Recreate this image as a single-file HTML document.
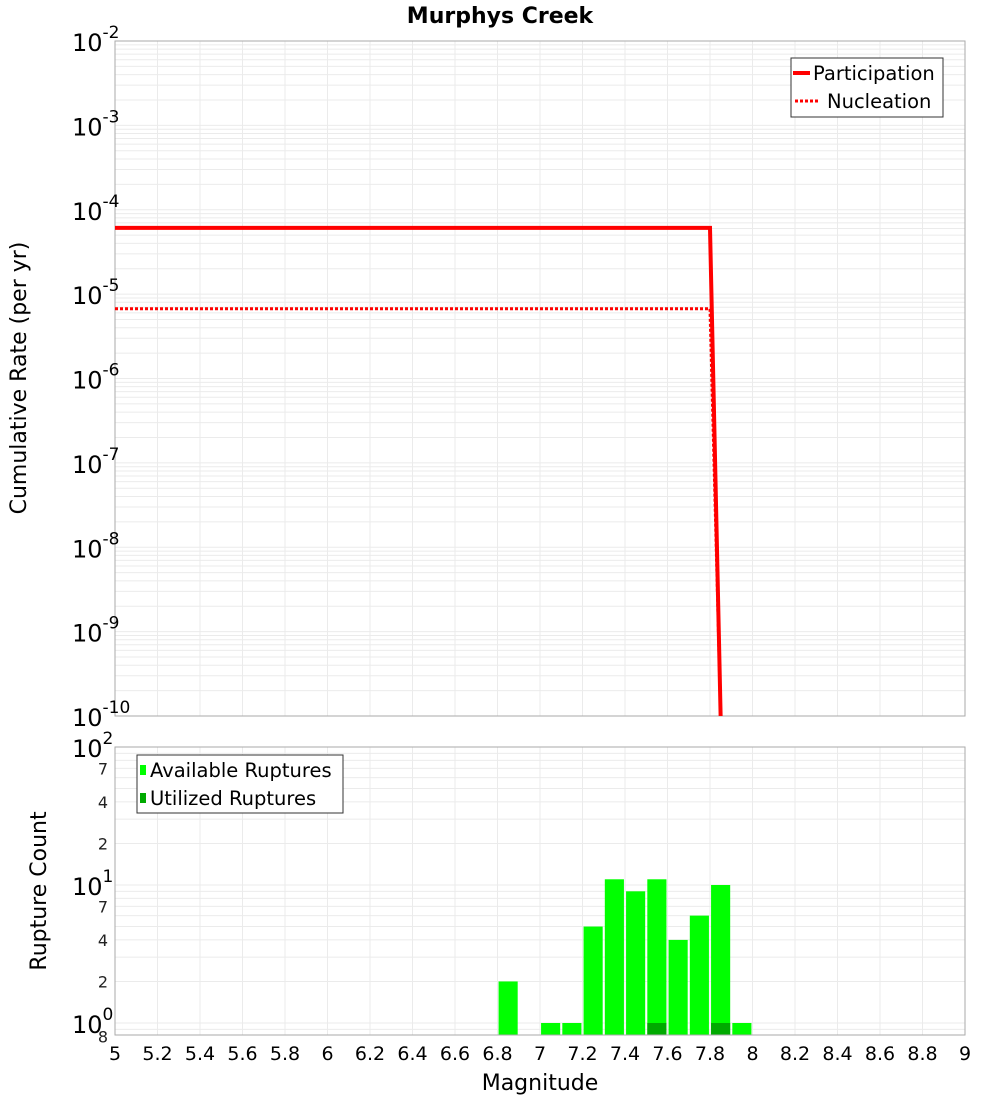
<!DOCTYPE html>
<html><head><meta charset="utf-8">
<style>
body{margin:0;background:#fff;}
svg text{font-family:"DejaVu Sans","Liberation Sans",sans-serif;}
</style></head>
<body>
<svg id="chart" width="1000" height="1100" xmlns="http://www.w3.org/2000/svg">
<rect width="1000" height="1100" fill="#fff"/>
<text x="500" y="23" text-anchor="middle" font-size="22" font-weight="bold">Murphys Creek</text>
<g id="topg"></g>
<g id="botg"></g>
<text transform="translate(26,378) rotate(-90)" text-anchor="middle" font-size="22">Cumulative Rate (per yr)</text>
<text transform="translate(46,891) rotate(-90)" text-anchor="middle" font-size="22">Rupture Count</text>
<text x="540" y="1090" text-anchor="middle" font-size="22">Magnitude</text>
<g>
<rect x="791" y="58" width="152" height="59" fill="#fff" stroke="#333" stroke-width="1"/>
<line x1="793" y1="73" x2="810" y2="73" stroke="#f00" stroke-width="4"/>
<text x="813" y="80" font-size="19.5">Participation</text>
<line x1="795" y1="101" x2="820" y2="101" stroke="#f00" stroke-width="3" stroke-dasharray="3,2"/>
<text x="827" y="108" font-size="19.5">Nucleation</text>
</g>
<g>
<rect x="137" y="755" width="206" height="58" fill="#fff" stroke="#333" stroke-width="1"/>
<rect x="140" y="765" width="6" height="10" fill="#00ff00"/>
<text x="150" y="777" font-size="19.5">Available Ruptures</text>
<rect x="140" y="793" width="6" height="10" fill="#00aa00"/>
<text x="150" y="805" font-size="19.5">Utilized Ruptures</text>
</g>
</svg>
<script>
const magCats=[6.85,7.05,7.15,7.25,7.35,7.45,7.55,7.65,7.75,7.85,7.95];
const availCounts=[2,1,1,5,11,9,11,4,6,10,1];
const usedMags=[7.55,7.85];
const usedCounts=[1,1];
const partMags=[5,7.8,7.85];
const partRates=[6.1e-5,6.1e-5,1e-10];
const nuclMags=[5,7.8,7.85];
const nuclRates=[6.7e-6,6.7e-6,1e-10];
const xTicks=[5,5.2,5.4,5.6,5.8,6,6.2,6.4,6.6,6.8,7,7.2,7.4,7.6,7.8,8,8.2,8.4,8.6,8.8,9];
const xTickLabels=["5","5.2","5.4","5.6","5.8","6","6.2","6.4","6.6","6.8","7","7.2","7.4","7.6","7.8","8","8.2","8.4","8.6","8.8","9"];
const topDecades=[-2,-3,-4,-5,-6,-7,-8,-9,-10];
const botDecades=[2,1,0];

const NS="http://www.w3.org/2000/svg";
function mk(parent,tag,attrs){const e=document.createElementNS(NS,tag);for(const k in attrs)e.setAttribute(k,attrs[k]);parent.appendChild(e);return e;}
const L=115,R=965;
const X=m=>L+(m-5)/4*(R-L);
const TT=41,TB=716;
const YT=v=>TT+(-2-Math.log10(v))/8*(TB-TT);
const BT=747,BDEC=138;
const YB=v=>BT+(2-Math.log10(v))*BDEC;
const BB=1035;

const gTop=document.getElementById('topg'),gBot=document.getElementById('botg');
for(let d=-10;d<-2;d++){for(let k=1;k<10;k++){const y=YT(k*Math.pow(10,d));
const g=mk(gTop,'line',{x1:L,x2:R,y1:y,y2:y,stroke:'#ebebeb','stroke-width':1});

}}
xTicks.forEach(m=>{const g=mk(gTop,'line',{x1:X(m),x2:X(m),y1:TT,y2:TB,stroke:'#ebebeb','stroke-width':1});

});
const tf=mk(gTop,'rect',{x:L,y:TT,width:R-L,height:TB-TT,fill:'none',stroke:'#aaa'});


topDecades.forEach(d=>{const y=YT(Math.pow(10,d));
const t=mk(gTop,'text',{x:72,y:y+10,'font-size':24});


t.textContent='10';
const s=mk(t,'tspan',{dy:-13,'font-size':17});s.textContent=String(d);});
const clip=mk(gTop,'clipPath',{id:'tc'});mk(clip,'rect',{x:L,y:TT,width:R-L,height:TB-TT});
function path(ms,vs){return ms.map((m,i)=>(i?'L':'M')+X(m)+','+YT(vs[i])).join(' ');}
const pl=mk(gTop,'path',{d:path(partMags,partRates),fill:'none',stroke:'#f00','stroke-width':4,'clip-path':'url(#tc)'});


const nl=mk(gTop,'path',{d:path(nuclMags,nuclRates),fill:'none',stroke:'#f00','stroke-width':3,'stroke-dasharray':'3,2','clip-path':'url(#tc)'});



for(let d=-1;d<2;d++){for(let k=1;k<10;k++){const y=YB(k*Math.pow(10,d));if(y>BB||y<BT)continue;
const g=mk(gBot,'line',{x1:L,x2:R,y1:y,y2:y,stroke:'#ebebeb','stroke-width':1});

}}
xTicks.forEach((m,i)=>{const g=mk(gBot,'line',{x1:X(m),x2:X(m),y1:BT,y2:BB,stroke:'#ebebeb','stroke-width':1});


const t=mk(gBot,'text',{x:X(m),y:1060,'text-anchor':'middle','font-size':19});


t.textContent=xTickLabels[i];});
const bw=0.09*(R-L)/4;
magCats.forEach((m,i)=>{const y=YB(availCounts[i]);
const b=mk(gBot,'rect',{x:X(m)-bw/2,y:y,width:bw,height:BB-y,fill:'#00ff00'});

});
usedMags.forEach((m,i)=>{const y=YB(usedCounts[i]);
const b=mk(gBot,'rect',{x:X(m)-bw/2,y:y,width:bw,height:BB-y,fill:'#00aa00'});

});
const bf=mk(gBot,'rect',{x:L,y:BT,width:R-L,height:BB-BT,fill:'none',stroke:'#aaa'});


botDecades.forEach(d=>{const y=YB(Math.pow(10,d));
const t=mk(gBot,'text',{x:72,y:y+10,'font-size':24});


t.textContent='10';
const s=mk(t,'tspan',{dy:-13,'font-size':17});s.textContent=String(d);});
[[7,1],[4,1],[2,1],[7,0],[4,0],[2,0],[8,-1]].forEach(([k,d])=>{const y=YB(k*Math.pow(10,d));
const t=mk(gBot,'text',{x:108,y:y+6,'text-anchor':'end','font-size':16,fill:'#222'});


t.textContent=String(k);});
</script>
</body></html>
